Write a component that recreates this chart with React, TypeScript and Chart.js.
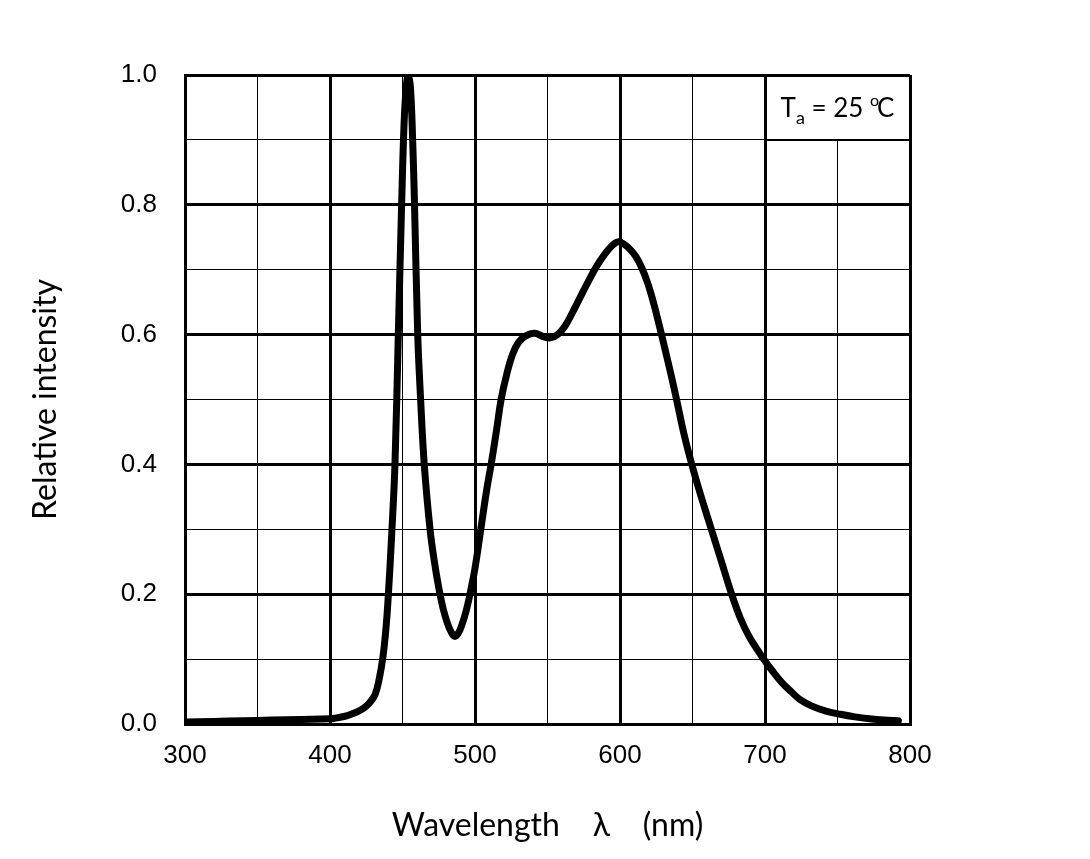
import React, { useEffect, useRef } from 'react';
import { Chart, registerables } from 'chart.js';

Chart.register(...registerables);

// Wavelength (nm) and relative intensity
const wavelengths = [
  300, 320, 340, 360, 380, 400, 406, 412, 418, 423, 427, 431, 434, 436.6, 438.5, 440, 442.5, 444.8,
  447.1, 449.4, 451, 452.5, 454, 455.5, 457, 458.3, 460.5, 462.5, 465, 469, 472, 475, 478, 481,
  483.5, 486, 488.5, 491, 494, 496.5, 500, 504, 508, 511.5, 515, 518, 522, 526, 530, 535, 541, 547,
  552, 557, 562, 567, 572, 577, 582, 587, 592, 596, 599, 603, 607, 611, 615, 619, 623, 627, 631, 635,
  639, 644, 649.5, 656, 663, 670, 677, 683, 689, 694, 699, 705, 712, 718, 724, 732, 742, 752, 762,
  772, 782, 792,
];
const intensity = [
  0.003, 0.004, 0.005, 0.006, 0.007, 0.008, 0.01, 0.013, 0.018, 0.024, 0.032, 0.045, 0.07, 0.105,
  0.145, 0.19, 0.29, 0.4, 0.6, 0.8, 0.92, 0.98, 1.0, 0.98, 0.9, 0.8, 0.6, 0.5, 0.4, 0.3, 0.25, 0.21,
  0.178, 0.155, 0.142, 0.135, 0.14, 0.153, 0.175, 0.2, 0.24, 0.3, 0.36, 0.405, 0.455, 0.5, 0.54, 0.57,
  0.588, 0.598, 0.602, 0.597, 0.595, 0.6, 0.613, 0.633, 0.655, 0.677, 0.698, 0.716, 0.731, 0.74,
  0.743, 0.739, 0.731, 0.72, 0.703, 0.68, 0.65, 0.615, 0.578, 0.54, 0.5, 0.448, 0.4, 0.35, 0.3,
  0.25, 0.2, 0.163, 0.135, 0.117, 0.1, 0.082, 0.063, 0.05, 0.038, 0.028, 0.02, 0.015, 0.011, 0.008,
  0.006, 0.005,
];

const xMajorLabels = ['300', '400', '500', '600', '700', '800'];
const yMajorLabels = ['0.0', '0.2', '0.4', '0.6', '0.8', '1.0'];
const xTitle = 'Wavelength    λ    (nm)';
const yTitle = 'Relative intensity';
const noteMain = 'T';
const noteSub = 'a';
const noteMid = ' = 25 ';
const noteSup = 'o';
const noteEnd = 'C';

const TEXT_FONT = 'Lato, "Open Sans", sans-serif';
const TICK_FONT = '"Liberation Sans", Arial, sans-serif';

const notePlugin = {
  id: 'noteBox',
  afterDraw(chart: any) {
    const { ctx, scales } = chart;
    const xs = scales.x;
    const ys = scales.y;
    const l = xs.getPixelForValue(700);
    const r = xs.getPixelForValue(800);
    const t = ys.getPixelForValue(1.0);
    const b = ys.getPixelForValue(0.9);
    ctx.save();
    ctx.fillStyle = '#ffffff';
    ctx.fillRect(l + 2, t + 2, r - l - 4, b - t - 2);
    ctx.strokeStyle = '#000';
    ctx.lineWidth = 2;
    ctx.beginPath();
    ctx.moveTo(l, b);
    ctx.lineTo(r, b);
    ctx.stroke();

    const mainFont = `26px ${TEXT_FONT}`;
    const subFont = `18px ${TEXT_FONT}`;
    const supFont = `16px ${TEXT_FONT}`;
    ctx.textBaseline = 'alphabetic';
    ctx.textAlign = 'left';
    ctx.font = mainFont;
    const wT = ctx.measureText(noteMain).width;
    const wM = ctx.measureText(noteMid).width;
    const wC = ctx.measureText(noteEnd).width;
    ctx.font = subFont;
    const wA = ctx.measureText(noteSub).width;
    ctx.font = supFont;
    const wO = ctx.measureText(noteSup).width;
    const supOverlap = 2;
    const total = wT + wA + wM + wO - supOverlap + wC;
    let x = (l + r) / 2 - total / 2;
    const base = (t + b) / 2 + 9.5;
    ctx.fillStyle = '#000';
    ctx.font = mainFont;
    ctx.fillText(noteMain, x, base);
    x += wT;
    ctx.font = subFont;
    ctx.fillText(noteSub, x, base + 7);
    x += wA;
    ctx.font = mainFont;
    ctx.fillText(noteMid, x, base);
    x += wM;
    ctx.font = supFont;
    ctx.fillText(noteSup, x, base - 11);
    x += wO - supOverlap;
    ctx.font = mainFont;
    ctx.fillText(noteEnd, x, base);
    ctx.restore();
  },
};

export default function App() {
  const ref = useRef<HTMLCanvasElement | null>(null);

  useEffect(() => {
    if (!ref.current) return;
    const data = wavelengths.map((w, i) => ({ x: w, y: intensity[i] }));
    const isMajorX = (v: number) => Math.round(v) % 100 === 0;
    const isMajorY = (v: number) => Math.round(v * 10) % 2 === 0;
    const chart = new Chart(ref.current, {
      type: 'line',
      data: {
        datasets: [
          {
            data,
            borderColor: '#000',
            borderWidth: 7,
            pointRadius: 0,
            tension: 0.4,
            borderJoinStyle: 'round',
            borderCapStyle: 'round',
            fill: false,
          },
        ],
      },
      options: {
        animation: false,
        responsive: false,
        devicePixelRatio: 1,
        layout: { padding: { top: 75, right: 180, left: 0, bottom: 0 } },
        plugins: { legend: { display: false }, tooltip: { enabled: false } },
        scales: {
          x: {
            type: 'linear',
            min: 300,
            max: 800,
            afterFit: (s: any) => {
              s.height = 135;
            },
            ticks: {
              stepSize: 50,
              autoSkip: false,
              maxRotation: 0,
              padding: 16,
              color: '#000',
              font: { family: TICK_FONT, size: 26 },
              callback: (v: any) => {
                const n = Number(v);
                if (!isMajorX(n)) return '';
                const i = xMajorLabels.indexOf(String(Math.round(n)));
                return i >= 0 ? xMajorLabels[i] : '';
              },
            },
            grid: {
              drawTicks: false,
              color: '#000',
              lineWidth: (c: any) => (c.tick && isMajorX(c.tick.value) ? 3 : 1),
            },
            border: { display: true, color: '#000', width: 3 },
            title: {
              display: true,
              text: xTitle,
              color: '#000',
              font: { family: TEXT_FONT, size: 32 },
              padding: { top: 0, bottom: 14 },
            },
          },
          y: {
            type: 'linear',
            min: 0,
            max: 1,
            afterFit: (s: any) => {
              s.width = 185;
            },
            ticks: {
              stepSize: 0.1,
              autoSkip: false,
              padding: 28,
              color: '#000',
              font: { family: TICK_FONT, size: 26 },
              callback: (v: any) => {
                const n = Number(v);
                if (!isMajorY(n)) return '';
                const idx = Math.round(n * 5);
                return yMajorLabels[idx] ?? '';
              },
            },
            grid: {
              drawTicks: false,
              color: '#000',
              lineWidth: (c: any) => (c.tick && isMajorY(c.tick.value) ? 3 : 1),
            },
            border: { display: true, color: '#000', width: 3 },
            title: {
              display: true,
              text: yTitle,
              color: '#000',
              font: { family: TEXT_FONT, size: 32 },
              padding: { top: 26, bottom: 0 },
            },
          },
        },
      },
      plugins: [notePlugin],
    } as any);
    return () => chart.destroy();
  }, []);

  return (
    <div style={{ position: 'absolute', left: 0, top: 0, width: 1090, height: 859, background: '#fff' }}>
      <canvas ref={ref} width={1090} height={859} style={{ display: 'block' }} />
    </div>
  );
}
